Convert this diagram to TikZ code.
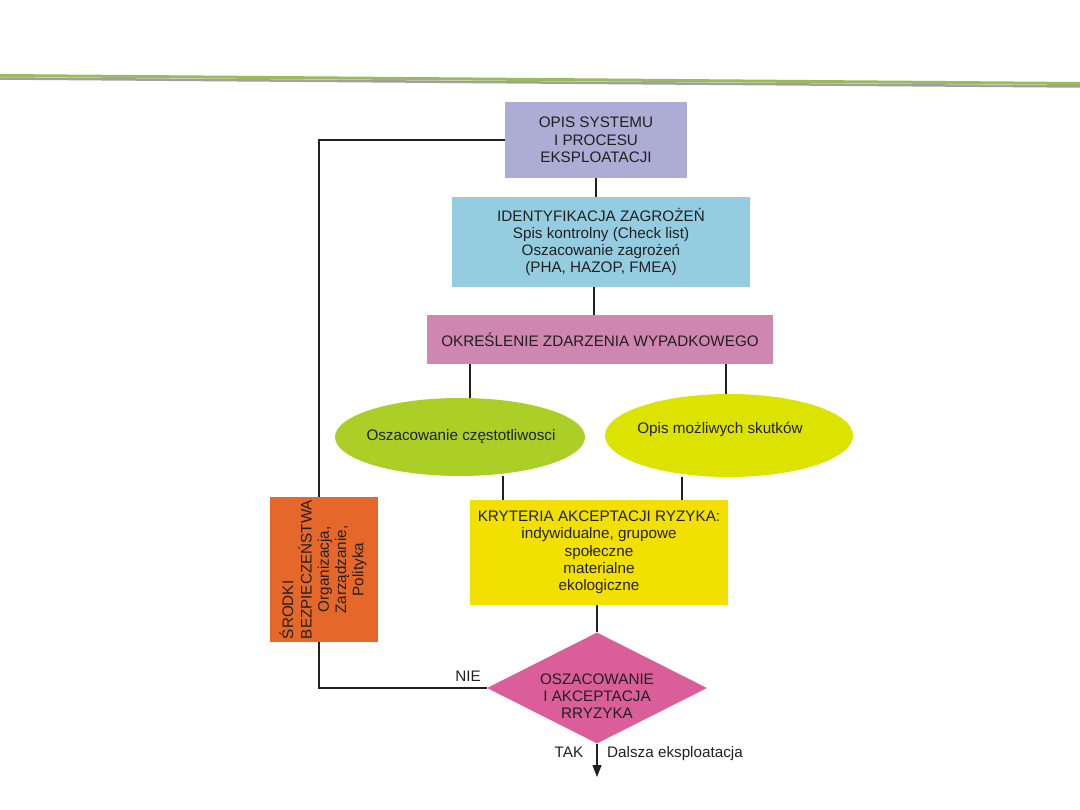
\documentclass[tikz,border=0pt]{standalone}
\usepackage{fontspec}
\setmainfont{Liberation Sans}
\usepackage{graphicx}
\usetikzlibrary{shapes.geometric,arrows.meta,calc}
\pgfdeclarelayer{bg}
\pgfsetlayers{bg,main}
\definecolor{txt}{HTML}{231F20}
\definecolor{cOpis}{HTML}{ADACD4}
\definecolor{cIdent}{HTML}{93CDDF}
\definecolor{cOkr}{HTML}{CF86B1}
\definecolor{cLell}{HTML}{ABCF26}
\definecolor{cRell}{HTML}{DCE300}
\definecolor{cKryt}{HTML}{F2E100}
\definecolor{cDiam}{HTML}{DA5E99}
\definecolor{cSrod}{HTML}{E5682A}
\definecolor{cGreen}{HTML}{9BBB59}
\definecolor{cGray}{HTML}{A0A0A0}
\newcommand\fs{\fontsize{15.25}{17.3}\selectfont}
\tikzset{
  box/.style={rectangle, draw=none, inner sep=0pt, align=center, text=txt, font=\fs},
  ell/.style={ellipse, draw=none, inner sep=0pt, align=center, text=txt, font=\fs},
  lbl/.style={inner sep=0pt, text=txt, font=\fs},
  conn/.style={draw=txt, line width=1.3pt},
}
\begin{document}
\begin{tikzpicture}[x=1pt,y=-1pt]
\useasboundingbox (0,0) rectangle (1080,810);
% top rule
\draw[cGray, line width=2.5pt] (0,78.5) -- (1080,86.5);
\draw[cGreen, line width=3pt] (0,75.5) -- (1080,83.5);

\node[box, fill=cOpis, minimum width=182pt, minimum height=76pt] (opis) at (596,140) {OPIS SYSTEMU\\I PROCESU\\EKSPLOATACJI};
\node[box, fill=cIdent, minimum width=298pt, minimum height=90pt] (ident) at (601,242) {IDENTYFIKACJA ZAGROŻEŃ\\Spis kontrolny (Check list)\\Oszacowanie zagrożeń\\(PHA, HAZOP, FMEA)};
\node[box, fill=cOkr, minimum width=346pt, minimum height=49pt] (okr) at (600,339.5) {OKREŚLENIE ZDARZENIA WYPADKOWEGO};
\node[ell, fill=cLell, minimum width=250pt, minimum height=78pt] (lell) at (460,437) {};
\node[lbl] (lellt) at (461,437) {Oszacowanie częstotliwosci};
\node[ell, fill=cRell, minimum width=248pt, minimum height=83pt] (rell) at (729,435.5) {};
\node[lbl] (rellt) at (720,429) {Opis możliwych skutków};
\node[box, fill=cKryt, minimum width=258pt, minimum height=105pt] (kryt) at (599,552.5) {KRYTERIA AKCEPTACJI RYZYKA:\\indywidualne, grupowe\\społeczne\\materialne\\ekologiczne};
\node[diamond, fill=cDiam, draw=none, inner sep=0pt, minimum width=220pt, minimum height=111pt] (diam) at (597,688) {};
\node[box] (diamt) at (597,696) {OSZACOWANIE\\I AKCEPTACJA\\RRYZYKA};
\node[box, fill=cSrod, minimum width=108pt, minimum height=145pt] (srod) at (324,569.5) {\rotatebox{90}{\begin{tabular}{@{}c@{}}\begin{tabular}{@{}l@{}}ŚRODKI\\BEZPIECZEŃSTWA\end{tabular}\\Organizacja,\\Zarządzanie,\\Polityka\end{tabular}}};

\coordinate (xsr) at (319,0);
\coordinate (xl1) at (470,0);
\coordinate (xr1) at (726,0);
\coordinate (xl2) at (503,0);
\coordinate (xr2) at (682,0);
\coordinate (tip) at (597,777);

\node[lbl, anchor=base] (nie) at (468,681) {NIE};
\node[lbl, anchor=base] (tak) at (569,757) {TAK};
\node[lbl, anchor=base west] (dalsza) at (607,757) {Dalsza eksploatacja};

\begin{pgfonlayer}{bg}
\draw[conn] (opis.west) -| (srod.north -| xsr);
\draw[conn] (srod.south -| xsr) |- (diam.west);
\draw[conn] (opis.south) -- (ident.north -| opis.south);
\draw[conn] (ident.south -| okr.south) ++(-6,0) -- ($(okr.north)+(-6,0)$);
\draw[conn] (okr.south -| xl1) -- (lell.north -| xl1);
\draw[conn] (okr.south -| xr1) -- (rell.north -| xr1);
\draw[conn] (lell.south -| xl2) -- (kryt.north -| xl2);
\draw[conn] (rell.south -| xr2) -- (kryt.north -| xr2);
\draw[conn] (kryt.south -| diam.north) -- (diam.north);
\end{pgfonlayer}
\draw[conn, -{Triangle[length=12pt,width=9pt]}] (diam.south) -- (tip);
\end{tikzpicture}
\end{document}
